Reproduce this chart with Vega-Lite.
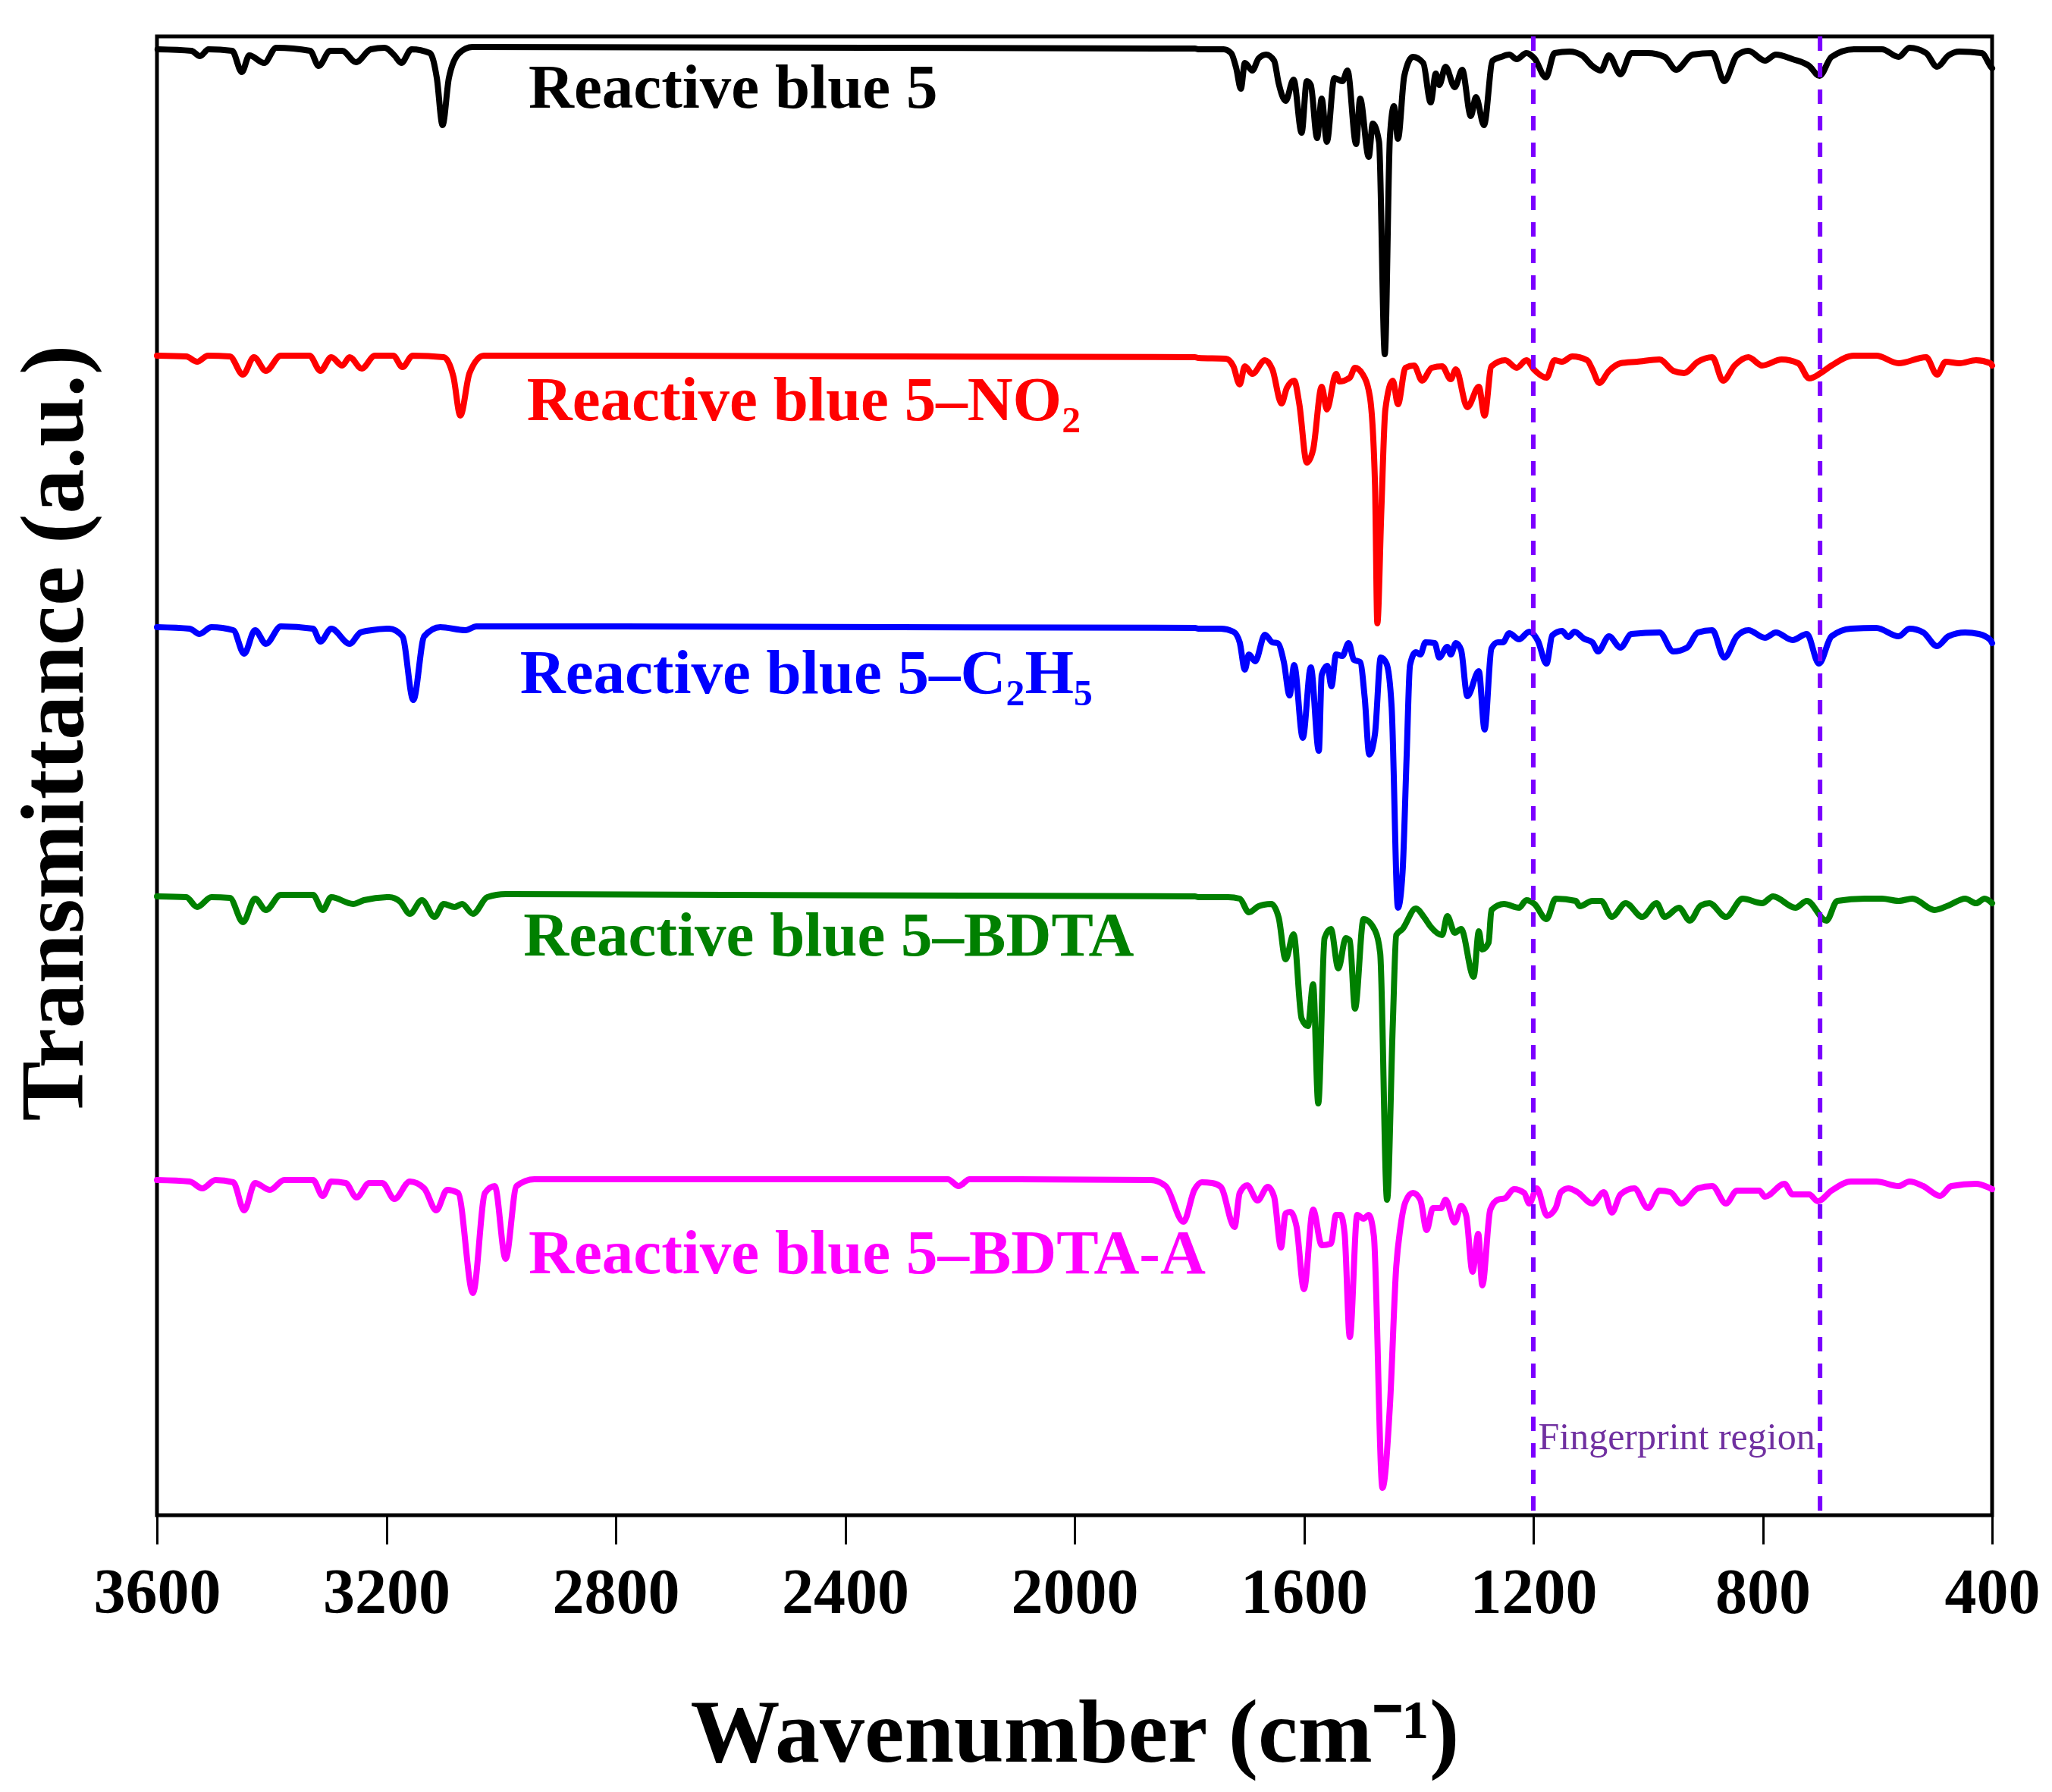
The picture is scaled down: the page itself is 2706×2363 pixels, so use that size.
{
  "$schema": "https://vega.github.io/schema/vega-lite/v6.json",
  "width": 2420,
  "height": 1950,
  "autosize": {"type": "none"},
  "padding": {"left": 207, "top": 48, "right": 79, "bottom": 365},
  "background": "white",
  "config": {"view": {"stroke": "#000000", "strokeWidth": 5}, "font": "Liberation Serif"},
  "datasets": {
    "spectra": [
      {"series":"RB5","w":3599,"t":1933},{"series":"RB5","w":3540,"t":1931},{"series":"RB5","w":3525,"t":1924},{"series":"RB5","w":3510,"t":1933},{"series":"RB5","w":3469,"t":1931},{"series":"RB5","w":3452,"t":1903},{"series":"RB5","w":3439,"t":1925},{"series":"RB5","w":3413,"t":1915},{"series":"RB5","w":3392,"t":1935},{"series":"RB5","w":3333,"t":1931},{"series":"RB5","w":3318,"t":1911},{"series":"RB5","w":3298,"t":1931},{"series":"RB5","w":3277,"t":1931},{"series":"RB5","w":3253,"t":1916},{"series":"RB5","w":3227,"t":1933},{"series":"RB5","w":3203,"t":1935},{"series":"RB5","w":3186,"t":1925},{"series":"RB5","w":3174,"t":1915},{"series":"RB5","w":3156,"t":1933},{"series":"RB5","w":3124,"t":1928},{"series":"RB5","w":3112,"t":1895},{"series":"RB5","w":3102,"t":1833},{"series":"RB5","w":3091,"t":1895},{"series":"RB5","w":3073,"t":1928},{"series":"RB5","w":3050,"t":1936},{"series":"RB5","w":1790,"t":1934},{"series":"RB5","w":1784,"t":1933},{"series":"RB5","w":1740,"t":1933},{"series":"RB5","w":1727,"t":1928},{"series":"RB5","w":1718,"t":1908},{"series":"RB5","w":1710,"t":1881},{"series":"RB5","w":1703,"t":1915},{"series":"RB5","w":1690,"t":1905},{"series":"RB5","w":1679,"t":1921},{"series":"RB5","w":1666,"t":1926},{"series":"RB5","w":1652,"t":1918},{"series":"RB5","w":1644,"t":1888},{"series":"RB5","w":1632,"t":1865},{"series":"RB5","w":1618,"t":1893},{"series":"RB5","w":1604,"t":1823},{"series":"RB5","w":1595,"t":1891},{"series":"RB5","w":1588,"t":1886},{"series":"RB5","w":1577,"t":1816},{"series":"RB5","w":1569,"t":1868},{"series":"RB5","w":1560,"t":1811},{"series":"RB5","w":1547,"t":1895},{"series":"RB5","w":1533,"t":1891},{"series":"RB5","w":1524,"t":1905},{"series":"RB5","w":1509,"t":1808},{"series":"RB5","w":1502,"t":1868},{"series":"RB5","w":1487,"t":1791},{"series":"RB5","w":1480,"t":1835},{"series":"RB5","w":1469,"t":1811},{"series":"RB5","w":1459,"t":1531},{"series":"RB5","w":1450,"t":1818},{"series":"RB5","w":1443,"t":1858},{"series":"RB5","w":1436,"t":1815},{"series":"RB5","w":1425,"t":1898},{"series":"RB5","w":1410,"t":1923},{"series":"RB5","w":1392,"t":1915},{"series":"RB5","w":1379,"t":1863},{"series":"RB5","w":1370,"t":1901},{"series":"RB5","w":1364,"t":1886},{"series":"RB5","w":1353,"t":1910},{"series":"RB5","w":1337,"t":1883},{"series":"RB5","w":1324,"t":1906},{"series":"RB5","w":1309,"t":1845},{"series":"RB5","w":1300,"t":1870},{"series":"RB5","w":1286,"t":1833},{"series":"RB5","w":1271,"t":1918},{"series":"RB5","w":1256,"t":1923},{"series":"RB5","w":1242,"t":1926},{"series":"RB5","w":1229,"t":1920},{"series":"RB5","w":1212,"t":1928},{"series":"RB5","w":1198,"t":1921},{"series":"RB5","w":1178,"t":1896},{"series":"RB5","w":1163,"t":1928},{"series":"RB5","w":1137,"t":1930},{"series":"RB5","w":1115,"t":1925},{"series":"RB5","w":1097,"t":1911},{"series":"RB5","w":1082,"t":1905},{"series":"RB5","w":1068,"t":1925},{"series":"RB5","w":1048,"t":1900},{"series":"RB5","w":1029,"t":1928},{"series":"RB5","w":1000,"t":1928},{"series":"RB5","w":971,"t":1923},{"series":"RB5","w":951,"t":1906},{"series":"RB5","w":922,"t":1926},{"series":"RB5","w":888,"t":1928},{"series":"RB5","w":867,"t":1891},{"series":"RB5","w":845,"t":1925},{"series":"RB5","w":825,"t":1931},{"series":"RB5","w":796,"t":1918},{"series":"RB5","w":777,"t":1926},{"series":"RB5","w":748,"t":1920},{"series":"RB5","w":719,"t":1911},{"series":"RB5","w":701,"t":1898},{"series":"RB5","w":680,"t":1923},{"series":"RB5","w":641,"t":1933},{"series":"RB5","w":592,"t":1933},{"series":"RB5","w":563,"t":1923},{"series":"RB5","w":544,"t":1935},{"series":"RB5","w":515,"t":1928},{"series":"RB5","w":496,"t":1910},{"series":"RB5","w":476,"t":1925},{"series":"RB5","w":457,"t":1930},{"series":"RB5","w":418,"t":1928},{"series":"RB5","w":403,"t":1911},{"series":"RB5","w":400,"t":1908},

      {"series":"NO2","w":3600,"t":1529},{"series":"NO2","w":3549,"t":1528},{"series":"NO2","w":3530,"t":1521},{"series":"NO2","w":3511,"t":1529},{"series":"NO2","w":3473,"t":1528},{"series":"NO2","w":3450,"t":1504},{"series":"NO2","w":3431,"t":1527},{"series":"NO2","w":3410,"t":1509},{"series":"NO2","w":3384,"t":1529},{"series":"NO2","w":3334,"t":1529},{"series":"NO2","w":3315,"t":1509},{"series":"NO2","w":3296,"t":1527},{"series":"NO2","w":3277,"t":1516},{"series":"NO2","w":3264,"t":1527},{"series":"NO2","w":3243,"t":1512},{"series":"NO2","w":3220,"t":1529},{"series":"NO2","w":3188,"t":1529},{"series":"NO2","w":3172,"t":1514},{"series":"NO2","w":3154,"t":1529},{"series":"NO2","w":3100,"t":1527},{"series":"NO2","w":3083,"t":1501},{"series":"NO2","w":3071,"t":1450},{"series":"NO2","w":3055,"t":1506},{"series":"NO2","w":3030,"t":1529},{"series":"NO2","w":1790,"t":1527},{"series":"NO2","w":1784,"t":1526},{"series":"NO2","w":1736,"t":1525},{"series":"NO2","w":1723,"t":1515},{"series":"NO2","w":1712,"t":1491},{"series":"NO2","w":1703,"t":1515},{"series":"NO2","w":1690,"t":1505},{"series":"NO2","w":1668,"t":1523},{"series":"NO2","w":1655,"t":1511},{"series":"NO2","w":1639,"t":1466},{"series":"NO2","w":1630,"t":1486},{"series":"NO2","w":1617,"t":1496},{"series":"NO2","w":1608,"t":1465},{"series":"NO2","w":1595,"t":1388},{"series":"NO2","w":1584,"t":1405},{"series":"NO2","w":1569,"t":1488},{"series":"NO2","w":1560,"t":1458},{"series":"NO2","w":1544,"t":1505},{"series":"NO2","w":1538,"t":1495},{"series":"NO2","w":1520,"t":1500},{"series":"NO2","w":1511,"t":1513},{"series":"NO2","w":1498,"t":1505},{"series":"NO2","w":1485,"t":1475},{"series":"NO2","w":1476,"t":1358},{"series":"NO2","w":1472,"t":1176},{"series":"NO2","w":1465,"t":1325},{"series":"NO2","w":1458,"t":1458},{"series":"NO2","w":1445,"t":1496},{"series":"NO2","w":1436,"t":1465},{"series":"NO2","w":1423,"t":1513},{"series":"NO2","w":1408,"t":1516},{"series":"NO2","w":1394,"t":1496},{"series":"NO2","w":1377,"t":1513},{"series":"NO2","w":1359,"t":1515},{"series":"NO2","w":1344,"t":1498},{"series":"NO2","w":1335,"t":1511},{"series":"NO2","w":1315,"t":1461},{"series":"NO2","w":1295,"t":1488},{"series":"NO2","w":1285,"t":1450},{"series":"NO2","w":1273,"t":1515},{"series":"NO2","w":1249,"t":1523},{"series":"NO2","w":1229,"t":1513},{"series":"NO2","w":1212,"t":1523},{"series":"NO2","w":1198,"t":1510},{"series":"NO2","w":1177,"t":1500},{"series":"NO2","w":1163,"t":1523},{"series":"NO2","w":1150,"t":1521},{"series":"NO2","w":1132,"t":1528},{"series":"NO2","w":1106,"t":1523},{"series":"NO2","w":1097,"t":1511},{"series":"NO2","w":1085,"t":1493},{"series":"NO2","w":1068,"t":1509},{"series":"NO2","w":1048,"t":1519},{"series":"NO2","w":1019,"t":1521},{"series":"NO2","w":980,"t":1524},{"series":"NO2","w":956,"t":1509},{"series":"NO2","w":937,"t":1506},{"series":"NO2","w":913,"t":1521},{"series":"NO2","w":888,"t":1527},{"series":"NO2","w":869,"t":1496},{"series":"NO2","w":849,"t":1516},{"series":"NO2","w":825,"t":1527},{"series":"NO2","w":801,"t":1516},{"series":"NO2","w":767,"t":1524},{"series":"NO2","w":738,"t":1519},{"series":"NO2","w":719,"t":1499},{"series":"NO2","w":699,"t":1506},{"series":"NO2","w":680,"t":1516},{"series":"NO2","w":641,"t":1529},{"series":"NO2","w":602,"t":1529},{"series":"NO2","w":563,"t":1519},{"series":"NO2","w":515,"t":1527},{"series":"NO2","w":496,"t":1504},{"series":"NO2","w":481,"t":1521},{"series":"NO2","w":457,"t":1519},{"series":"NO2","w":428,"t":1523},{"series":"NO2","w":403,"t":1519},{"series":"NO2","w":400,"t":1516},

      {"series":"C2H5","w":3600,"t":1171},{"series":"C2H5","w":3543,"t":1169},{"series":"C2H5","w":3526,"t":1162},{"series":"C2H5","w":3505,"t":1171},{"series":"C2H5","w":3467,"t":1167},{"series":"C2H5","w":3448,"t":1136},{"series":"C2H5","w":3429,"t":1167},{"series":"C2H5","w":3410,"t":1149},{"series":"C2H5","w":3384,"t":1172},{"series":"C2H5","w":3328,"t":1169},{"series":"C2H5","w":3315,"t":1152},{"series":"C2H5","w":3296,"t":1169},{"series":"C2H5","w":3264,"t":1149},{"series":"C2H5","w":3245,"t":1164},{"series":"C2H5","w":3226,"t":1167},{"series":"C2H5","w":3195,"t":1169},{"series":"C2H5","w":3172,"t":1159},{"series":"C2H5","w":3153,"t":1075},{"series":"C2H5","w":3134,"t":1159},{"series":"C2H5","w":3106,"t":1171},{"series":"C2H5","w":3062,"t":1167},{"series":"C2H5","w":3043,"t":1172},{"series":"C2H5","w":1790,"t":1170},{"series":"C2H5","w":1784,"t":1169},{"series":"C2H5","w":1745,"t":1169},{"series":"C2H5","w":1723,"t":1165},{"series":"C2H5","w":1712,"t":1151},{"series":"C2H5","w":1703,"t":1115},{"series":"C2H5","w":1696,"t":1135},{"series":"C2H5","w":1685,"t":1126},{"series":"C2H5","w":1668,"t":1161},{"series":"C2H5","w":1655,"t":1151},{"series":"C2H5","w":1646,"t":1150},{"series":"C2H5","w":1635,"t":1125},{"series":"C2H5","w":1625,"t":1081},{"series":"C2H5","w":1617,"t":1121},{"series":"C2H5","w":1602,"t":1025},{"series":"C2H5","w":1588,"t":1118},{"series":"C2H5","w":1574,"t":1008},{"series":"C2H5","w":1569,"t":1108},{"series":"C2H5","w":1559,"t":1120},{"series":"C2H5","w":1552,"t":1093},{"series":"C2H5","w":1544,"t":1135},{"series":"C2H5","w":1533,"t":1133},{"series":"C2H5","w":1522,"t":1150},{"series":"C2H5","w":1513,"t":1128},{"series":"C2H5","w":1502,"t":1125},{"series":"C2H5","w":1494,"t":1078},{"series":"C2H5","w":1486,"t":1003},{"series":"C2H5","w":1476,"t":1031},{"series":"C2H5","w":1466,"t":1131},{"series":"C2H5","w":1456,"t":1123},{"series":"C2H5","w":1447,"t":1065},{"series":"C2H5","w":1436,"t":801},{"series":"C2H5","w":1428,"t":848},{"series":"C2H5","w":1421,"t":998},{"series":"C2H5","w":1415,"t":1121},{"series":"C2H5","w":1405,"t":1138},{"series":"C2H5","w":1397,"t":1135},{"series":"C2H5","w":1388,"t":1151},{"series":"C2H5","w":1372,"t":1150},{"series":"C2H5","w":1364,"t":1131},{"series":"C2H5","w":1350,"t":1145},{"series":"C2H5","w":1344,"t":1135},{"series":"C2H5","w":1335,"t":1150},{"series":"C2H5","w":1326,"t":1141},{"series":"C2H5","w":1315,"t":1080},{"series":"C2H5","w":1295,"t":1113},{"series":"C2H5","w":1285,"t":1036},{"series":"C2H5","w":1273,"t":1143},{"series":"C2H5","w":1262,"t":1151},{"series":"C2H5","w":1253,"t":1151},{"series":"C2H5","w":1242,"t":1163},{"series":"C2H5","w":1225,"t":1155},{"series":"C2H5","w":1207,"t":1165},{"series":"C2H5","w":1192,"t":1153},{"series":"C2H5","w":1177,"t":1123},{"series":"C2H5","w":1167,"t":1160},{"series":"C2H5","w":1150,"t":1166},{"series":"C2H5","w":1139,"t":1158},{"series":"C2H5","w":1128,"t":1165},{"series":"C2H5","w":1112,"t":1156},{"series":"C2H5","w":1097,"t":1151},{"series":"C2H5","w":1087,"t":1139},{"series":"C2H5","w":1068,"t":1159},{"series":"C2H5","w":1048,"t":1144},{"series":"C2H5","w":1029,"t":1162},{"series":"C2H5","w":980,"t":1164},{"series":"C2H5","w":956,"t":1139},{"series":"C2H5","w":932,"t":1144},{"series":"C2H5","w":913,"t":1164},{"series":"C2H5","w":888,"t":1167},{"series":"C2H5","w":867,"t":1131},{"series":"C2H5","w":845,"t":1159},{"series":"C2H5","w":825,"t":1167},{"series":"C2H5","w":796,"t":1157},{"series":"C2H5","w":777,"t":1164},{"series":"C2H5","w":748,"t":1154},{"series":"C2H5","w":723,"t":1162},{"series":"C2H5","w":702,"t":1123},{"series":"C2H5","w":680,"t":1159},{"series":"C2H5","w":646,"t":1169},{"series":"C2H5","w":602,"t":1170},{"series":"C2H5","w":563,"t":1159},{"series":"C2H5","w":544,"t":1169},{"series":"C2H5","w":520,"t":1164},{"series":"C2H5","w":496,"t":1146},{"series":"C2H5","w":476,"t":1159},{"series":"C2H5","w":447,"t":1164},{"series":"C2H5","w":423,"t":1162},{"series":"C2H5","w":403,"t":1154},{"series":"C2H5","w":400,"t":1150},

      {"series":"BDTA","w":3600,"t":816},{"series":"BDTA","w":3549,"t":815},{"series":"BDTA","w":3530,"t":802},{"series":"BDTA","w":3505,"t":815},{"series":"BDTA","w":3473,"t":814},{"series":"BDTA","w":3450,"t":782},{"series":"BDTA","w":3429,"t":813},{"series":"BDTA","w":3410,"t":798},{"series":"BDTA","w":3384,"t":818},{"series":"BDTA","w":3328,"t":818},{"series":"BDTA","w":3311,"t":798},{"series":"BDTA","w":3296,"t":815},{"series":"BDTA","w":3258,"t":806},{"series":"BDTA","w":3239,"t":811},{"series":"BDTA","w":3195,"t":815},{"series":"BDTA","w":3176,"t":809},{"series":"BDTA","w":3159,"t":793},{"series":"BDTA","w":3138,"t":811},{"series":"BDTA","w":3116,"t":789},{"series":"BDTA","w":3100,"t":806},{"series":"BDTA","w":3081,"t":802},{"series":"BDTA","w":3068,"t":806},{"series":"BDTA","w":3049,"t":793},{"series":"BDTA","w":3024,"t":815},{"series":"BDTA","w":2992,"t":819},{"series":"BDTA","w":1790,"t":816},{"series":"BDTA","w":1784,"t":815},{"series":"BDTA","w":1732,"t":815},{"series":"BDTA","w":1712,"t":813},{"series":"BDTA","w":1696,"t":795},{"series":"BDTA","w":1679,"t":803},{"series":"BDTA","w":1670,"t":805},{"series":"BDTA","w":1657,"t":806},{"series":"BDTA","w":1644,"t":788},{"series":"BDTA","w":1632,"t":733},{"series":"BDTA","w":1618,"t":766},{"series":"BDTA","w":1604,"t":655},{"series":"BDTA","w":1593,"t":645},{"series":"BDTA","w":1584,"t":700},{"series":"BDTA","w":1575,"t":543},{"series":"BDTA","w":1564,"t":761},{"series":"BDTA","w":1553,"t":773},{"series":"BDTA","w":1540,"t":721},{"series":"BDTA","w":1527,"t":761},{"series":"BDTA","w":1520,"t":758},{"series":"BDTA","w":1511,"t":668},{"series":"BDTA","w":1496,"t":786},{"series":"BDTA","w":1476,"t":771},{"series":"BDTA","w":1467,"t":741},{"series":"BDTA","w":1455,"t":416},{"series":"BDTA","w":1445,"t":648},{"series":"BDTA","w":1439,"t":765},{"series":"BDTA","w":1428,"t":773},{"series":"BDTA","w":1405,"t":800},{"series":"BDTA","w":1390,"t":788},{"series":"BDTA","w":1379,"t":776},{"series":"BDTA","w":1359,"t":765},{"series":"BDTA","w":1350,"t":790},{"series":"BDTA","w":1337,"t":768},{"series":"BDTA","w":1326,"t":773},{"series":"BDTA","w":1304,"t":710},{"series":"BDTA","w":1295,"t":770},{"series":"BDTA","w":1289,"t":746},{"series":"BDTA","w":1278,"t":755},{"series":"BDTA","w":1273,"t":798},{"series":"BDTA","w":1251,"t":806},{"series":"BDTA","w":1225,"t":801},{"series":"BDTA","w":1212,"t":811},{"series":"BDTA","w":1198,"t":806},{"series":"BDTA","w":1177,"t":786},{"series":"BDTA","w":1161,"t":813},{"series":"BDTA","w":1126,"t":810},{"series":"BDTA","w":1119,"t":803},{"series":"BDTA","w":1097,"t":810},{"series":"BDTA","w":1082,"t":810},{"series":"BDTA","w":1063,"t":789},{"series":"BDTA","w":1039,"t":807},{"series":"BDTA","w":1010,"t":789},{"series":"BDTA","w":985,"t":807},{"series":"BDTA","w":971,"t":789},{"series":"BDTA","w":946,"t":801},{"series":"BDTA","w":927,"t":784},{"series":"BDTA","w":908,"t":804},{"series":"BDTA","w":893,"t":807},{"series":"BDTA","w":864,"t":789},{"series":"BDTA","w":835,"t":813},{"series":"BDTA","w":801,"t":807},{"series":"BDTA","w":782,"t":816},{"series":"BDTA","w":743,"t":801},{"series":"BDTA","w":723,"t":810},{"series":"BDTA","w":689,"t":784},{"series":"BDTA","w":670,"t":810},{"series":"BDTA","w":622,"t":813},{"series":"BDTA","w":592,"t":813},{"series":"BDTA","w":563,"t":810},{"series":"BDTA","w":539,"t":813},{"series":"BDTA","w":500,"t":798},{"series":"BDTA","w":476,"t":804},{"series":"BDTA","w":447,"t":813},{"series":"BDTA","w":428,"t":807},{"series":"BDTA","w":413,"t":813},{"series":"BDTA","w":400,"t":807},

      {"series":"BDTA-A","w":3600,"t":442},{"series":"BDTA-A","w":3543,"t":440},{"series":"BDTA-A","w":3521,"t":431},{"series":"BDTA-A","w":3498,"t":442},{"series":"BDTA-A","w":3467,"t":439},{"series":"BDTA-A","w":3448,"t":402},{"series":"BDTA-A","w":3429,"t":438},{"series":"BDTA-A","w":3403,"t":429},{"series":"BDTA-A","w":3378,"t":442},{"series":"BDTA-A","w":3328,"t":442},{"series":"BDTA-A","w":3311,"t":421},{"series":"BDTA-A","w":3296,"t":440},{"series":"BDTA-A","w":3271,"t":438},{"series":"BDTA-A","w":3252,"t":419},{"series":"BDTA-A","w":3230,"t":438},{"series":"BDTA-A","w":3207,"t":438},{"series":"BDTA-A","w":3186,"t":417},{"series":"BDTA-A","w":3159,"t":440},{"series":"BDTA-A","w":3134,"t":431},{"series":"BDTA-A","w":3113,"t":402},{"series":"BDTA-A","w":3094,"t":429},{"series":"BDTA-A","w":3075,"t":425},{"series":"BDTA-A","w":3049,"t":293},{"series":"BDTA-A","w":3028,"t":425},{"series":"BDTA-A","w":3011,"t":434},{"series":"BDTA-A","w":2992,"t":338},{"series":"BDTA-A","w":2973,"t":434},{"series":"BDTA-A","w":2942,"t":443},{"series":"BDTA-A","w":2221,"t":443},{"series":"BDTA-A","w":2202,"t":434},{"series":"BDTA-A","w":2183,"t":443},{"series":"BDTA-A","w":1867,"t":442},{"series":"BDTA-A","w":1841,"t":434},{"series":"BDTA-A","w":1810,"t":387},{"series":"BDTA-A","w":1791,"t":429},{"series":"BDTA-A","w":1778,"t":439},{"series":"BDTA-A","w":1760,"t":438},{"series":"BDTA-A","w":1745,"t":433},{"series":"BDTA-A","w":1721,"t":380},{"series":"BDTA-A","w":1712,"t":425},{"series":"BDTA-A","w":1699,"t":435},{"series":"BDTA-A","w":1681,"t":415},{"series":"BDTA-A","w":1663,"t":433},{"series":"BDTA-A","w":1652,"t":420},{"series":"BDTA-A","w":1640,"t":353},{"series":"BDTA-A","w":1632,"t":398},{"series":"BDTA-A","w":1624,"t":400},{"series":"BDTA-A","w":1613,"t":381},{"series":"BDTA-A","w":1600,"t":298},{"series":"BDTA-A","w":1584,"t":403},{"series":"BDTA-A","w":1569,"t":356},{"series":"BDTA-A","w":1553,"t":358},{"series":"BDTA-A","w":1544,"t":396},{"series":"BDTA-A","w":1536,"t":396},{"series":"BDTA-A","w":1529,"t":371},{"series":"BDTA-A","w":1520,"t":235},{"series":"BDTA-A","w":1507,"t":396},{"series":"BDTA-A","w":1496,"t":391},{"series":"BDTA-A","w":1487,"t":396},{"series":"BDTA-A","w":1478,"t":368},{"series":"BDTA-A","w":1463,"t":36},{"series":"BDTA-A","w":1450,"t":145},{"series":"BDTA-A","w":1439,"t":328},{"series":"BDTA-A","w":1432,"t":378},{"series":"BDTA-A","w":1423,"t":413},{"series":"BDTA-A","w":1410,"t":425},{"series":"BDTA-A","w":1397,"t":416},{"series":"BDTA-A","w":1386,"t":376},{"series":"BDTA-A","w":1375,"t":405},{"series":"BDTA-A","w":1361,"t":405},{"series":"BDTA-A","w":1353,"t":416},{"series":"BDTA-A","w":1337,"t":386},{"series":"BDTA-A","w":1326,"t":408},{"series":"BDTA-A","w":1317,"t":395},{"series":"BDTA-A","w":1306,"t":321},{"series":"BDTA-A","w":1296,"t":371},{"series":"BDTA-A","w":1289,"t":303},{"series":"BDTA-A","w":1275,"t":403},{"series":"BDTA-A","w":1262,"t":416},{"series":"BDTA-A","w":1249,"t":418},{"series":"BDTA-A","w":1234,"t":430},{"series":"BDTA-A","w":1216,"t":425},{"series":"BDTA-A","w":1207,"t":411},{"series":"BDTA-A","w":1194,"t":431},{"series":"BDTA-A","w":1176,"t":395},{"series":"BDTA-A","w":1161,"t":405},{"series":"BDTA-A","w":1152,"t":426},{"series":"BDTA-A","w":1139,"t":431},{"series":"BDTA-A","w":1123,"t":426},{"series":"BDTA-A","w":1097,"t":411},{"series":"BDTA-A","w":1077,"t":426},{"series":"BDTA-A","w":1063,"t":399},{"series":"BDTA-A","w":1048,"t":423},{"series":"BDTA-A","w":1024,"t":431},{"series":"BDTA-A","w":1000,"t":405},{"series":"BDTA-A","w":980,"t":428},{"series":"BDTA-A","w":961,"t":426},{"series":"BDTA-A","w":942,"t":411},{"series":"BDTA-A","w":913,"t":431},{"series":"BDTA-A","w":888,"t":434},{"series":"BDTA-A","w":864,"t":411},{"series":"BDTA-A","w":845,"t":428},{"series":"BDTA-A","w":806,"t":428},{"series":"BDTA-A","w":796,"t":420},{"series":"BDTA-A","w":762,"t":437},{"series":"BDTA-A","w":748,"t":423},{"series":"BDTA-A","w":719,"t":423},{"series":"BDTA-A","w":704,"t":414},{"series":"BDTA-A","w":680,"t":428},{"series":"BDTA-A","w":646,"t":440},{"series":"BDTA-A","w":602,"t":440},{"series":"BDTA-A","w":563,"t":434},{"series":"BDTA-A","w":544,"t":440},{"series":"BDTA-A","w":520,"t":434},{"series":"BDTA-A","w":491,"t":421},{"series":"BDTA-A","w":471,"t":434},{"series":"BDTA-A","w":428,"t":437},{"series":"BDTA-A","w":403,"t":431},{"series":"BDTA-A","w":400,"t":430}
    ],
    "labels": [
      {"series":"RB5","w":2952,"t":1881,"label":"Reactive blue 5"},
      {"series":"NO2","w":2955,"t":1469,"label":"Reactive blue 5–NO₂"},
      {"series":"C2H5","w":2967,"t":1109,"label":"Reactive blue 5–C₂H₅"},
      {"series":"BDTA","w":2961,"t":763,"label":"Reactive blue 5–BDTA"},
      {"series":"BDTA-A","w":2952,"t":344,"label":"Reactive blue 5–BDTA-A"}
    ],
    "bounds": [{"w":1200},{"w":700}],
    "region": [{"w":950,"t":102,"label":"Fingerprint region"}]
  },
  "layer": [
    {
      "data": {"name": "spectra"},
      "mark": {"type": "line", "strokeWidth": 8, "strokeJoin": "round", "strokeCap": "round", "interpolate": "monotone"},
      "encoding": {
        "x": {"field": "w", "type": "quantitative",
              "scale": {"domain": [400, 3600], "reverse": true, "nice": false, "zero": false},
              "axis": {"values": [3600, 3200, 2800, 2400, 2000, 1600, 1200, 800, 400],
                       "format": "d", "grid": false, "domain": false,
                       "ticks": true, "tickSize": 38, "tickWidth": 3, "tickColor": "#000000",
                       "labelFont": "Liberation Serif", "labelFontWeight": "bold", "labelFontSize": 84,
                       "labelColor": "#000000", "labelPadding": 24, "labelFlush": false, "labelOverlap": false,
                       "title": "Wavenumber (cm⁻¹)", "titleFont": "Liberation Serif", "titleFontWeight": "bold",
                       "titleFontSize": 118, "titleColor": "#000000", "titleY": 324, "titleBaseline": "alphabetic"}},
        "y": {"field": "t", "type": "quantitative",
              "scale": {"domain": [0, 1950], "nice": false, "zero": false},
              "axis": {"grid": false, "domain": false, "ticks": false, "labels": false,
                       "title": "Transmittance (a.u.)", "titleFont": "Liberation Serif", "titleFontWeight": "bold",
                       "titleFontSize": 118, "titleColor": "#000000", "titleX": -99, "titleY": 918,
                       "titleAngle": -90, "titleAlign": "center", "titleBaseline": "alphabetic"}},
        "color": {"field": "series", "type": "nominal",
                  "scale": {"domain": ["RB5", "NO2", "C2H5", "BDTA", "BDTA-A"],
                            "range": ["#000000", "#FF0000", "#0000FF", "#008000", "#FF00FF"]},
                  "legend": null}
      }
    },
    {
      "data": {"name": "bounds"},
      "mark": {"type": "rule", "color": "#7B00FF", "strokeWidth": 6, "strokeDash": [19, 16]},
      "encoding": {"x": {"field": "w", "type": "quantitative"}}
    },
    {
      "data": {"name": "labels"},
      "mark": {"type": "text", "font": "Liberation Serif", "fontWeight": "bold", "fontSize": 83, "align": "left", "baseline": "middle"},
      "encoding": {
        "x": {"field": "w", "type": "quantitative"},
        "y": {"field": "t", "type": "quantitative"},
        "text": {"field": "label"},
        "color": {"field": "series", "type": "nominal", "legend": null}
      }
    },
    {
      "data": {"name": "region"},
      "mark": {"type": "text", "font": "Liberation Serif", "fontSize": 50, "align": "center", "baseline": "middle", "color": "#7030A0"},
      "encoding": {
        "x": {"field": "w", "type": "quantitative"},
        "y": {"field": "t", "type": "quantitative"},
        "text": {"field": "label"}
      }
    }
  ]
}
